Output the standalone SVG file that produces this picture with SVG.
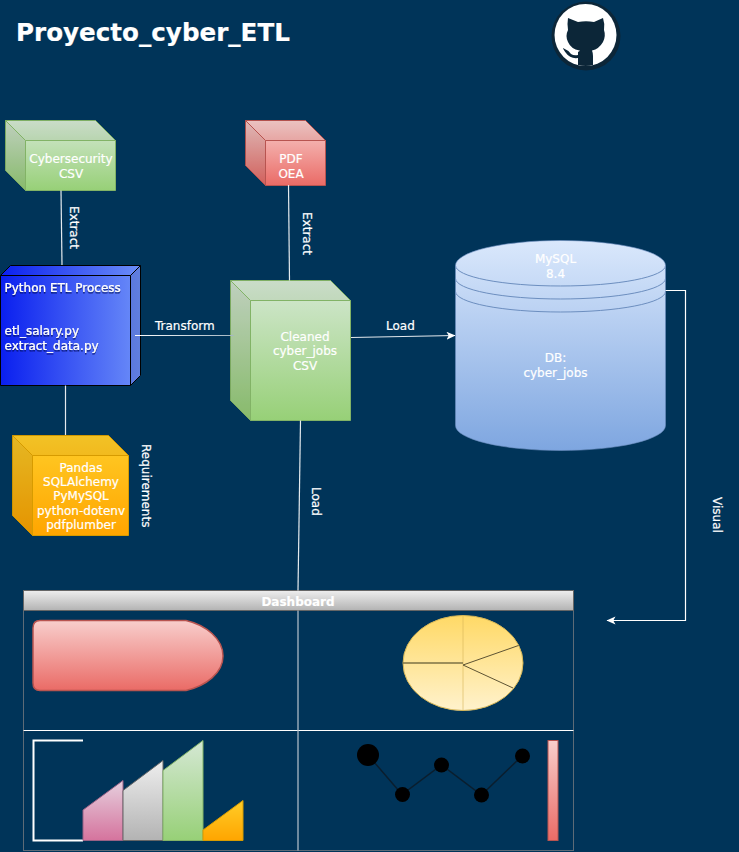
<svg xmlns="http://www.w3.org/2000/svg" width="739" height="852" viewBox="0 0 739 852">
<style>
text{font-family:"DejaVu Sans","Liberation Sans",sans-serif;font-size:12px;fill:#fff;stroke:#fff;stroke-width:.2}
.c{text-anchor:middle}
.ln{fill:none;stroke:#e4eaee;stroke-width:1.2}
.sg{stroke:#82b366}.sr{stroke:#b85450}.sy{stroke:#d79b00}
.sh{fill:#000;fill-opacity:.1;stroke:none}
.sh2{fill:#000;fill-opacity:.05;stroke:none}
.pu{fill:none;stroke:#fff;stroke-width:1.200}
</style>
<defs>
<linearGradient id="g" x1="0" y1="0" x2="0" y2="1"><stop offset="0" stop-color="#d5e8d4"/><stop offset="1" stop-color="#97d077"/></linearGradient>
<linearGradient id="r" x1="0" y1="0" x2="0" y2="1"><stop offset="0" stop-color="#f8cecc"/><stop offset="1" stop-color="#ea6b66"/></linearGradient>
<linearGradient id="y" x1="0" y1="0" x2="0" y2="1"><stop offset="0" stop-color="#ffcd28"/><stop offset="1" stop-color="#ffa500"/></linearGradient>
<linearGradient id="b" x1="0" y1="0" x2="1" y2="0"><stop offset="0" stop-color="#0a1fef"/><stop offset="1" stop-color="#6c8ef8"/></linearGradient>
<linearGradient id="cy" x1="0" y1="0" x2="0" y2="1"><stop offset="0" stop-color="#dae8fc"/><stop offset="1" stop-color="#7ea6e0"/></linearGradient>
<linearGradient id="h" x1="0" y1="0" x2="0" y2="1"><stop offset="0" stop-color="#eeeeee"/><stop offset="1" stop-color="#b3b3b3"/></linearGradient>
<linearGradient id="pk" x1="0" y1="0" x2="0" y2="1"><stop offset="0" stop-color="#e6d0de"/><stop offset="1" stop-color="#d5739d"/></linearGradient>
<linearGradient id="pie" x1="0" y1="0" x2="0" y2="1"><stop offset="0" stop-color="#ffd966"/><stop offset="1" stop-color="#fff2cc"/></linearGradient>
<linearGradient id="tf" gradientUnits="userSpaceOnUse" x1="135" y1="0" x2="233" y2="0"><stop offset="0" stop-color="#fff"/><stop offset="1" stop-color="#a5b7c4"/></linearGradient>
<marker id="a" markerWidth="10" markerHeight="10" refX="8.5" refY="4" orient="auto" markerUnits="userSpaceOnUse"><path d="M0 0L9 4L0 8L2.2 4Z" fill="#fff"/></marker>
<filter id="ds" x="-5%" y="-20%" width="110%" height="150%"><feDropShadow dx="0" dy="1.5" stdDeviation="0.4" flood-color="#00105a" flood-opacity="0.8"/></filter>
</defs>
<rect width="739" height="852" fill="#003459"/>
<text id="title" x="16" y="41" style="font-size:24.600px;font-weight:700">Proyecto_cyber_ETL</text>

<g id="github">
<circle cx="586" cy="36" r="34.500" fill="#0c2638"/>
<circle cx="585.500" cy="35" r="31" fill="#fff"/>
<path d="M568 18L578 22Q586 20.500 594 22L603 18Q605 24 604 30Q606 36 603 42Q599 49 592 50.500Q593 53 593 56L593 65Q586 67 578 65L578 58Q570 59 566 53Q563 49 563 48Q568 50 571 54Q574 56 578 55L578 52Q581 50 579.500 50.500Q571 49 568 42Q565 36 568 30Q567 24 568 18Z" fill="#0c2638"/>
</g>

<g id="n-cyber">
<path class="sg" fill="url(#g)" d="M5.500 120.500H95.500L115.500 140.500V190.500H25.500L5.500 170.500Z"/>
<path class="sh" d="M5.500 120.500L25.500 140.500V190.500L5.500 170.500Z"/>
<path class="sh2" d="M5.500 120.500H95.500L115.500 140.500H25.500Z"/>
<path class="sg" fill="none" d="M5.500 120.500L25.500 140.500H115.500M25.500 140.500V190.500"/>
<text class="c" x="71" y="163">Cybersecurity</text>
<text class="c" x="71" y="178">CSV</text>
</g>

<g id="n-pdf">
<path class="sr" fill="url(#r)" d="M245.500 120.500H305.500L325.500 140.500V185.500H265.500L245.500 165.500Z"/>
<path class="sh" d="M245.500 120.500L265.500 140.500V185.500L245.500 165.500Z"/>
<path class="sh2" d="M245.500 120.500H305.500L325.500 140.500H265.500Z"/>
<path class="sr" fill="none" d="M245.500 120.500L265.500 140.500H325.500M265.500 140.500V185.500"/>
<text class="c" x="291" y="163">PDF</text>
<text class="c" x="291" y="178">OEA</text>
</g>

<g id="n-python">
<path stroke="#000" fill="url(#b)" d="M0.500 275.500L10.500 265.500H140.500V375.500L130.500 385.500H0.500Z"/>
<path class="sh" d="M130.500 275.500L140.500 265.500V375.500L130.500 385.500Z"/>
<path stroke="#000" fill="none" d="M0.500 275.500H130.500L140.500 265.500M130.500 275.500V385.500"/>
<g filter="url(#ds)">
<text x="4.500" y="292">Python ETL Process</text>
<text x="4.500" y="335">etl_salary.py</text>
<text x="4.500" y="350">extract_data.py</text>
</g>
</g>

<g id="n-cleaned">
<path class="sg" fill="url(#g)" d="M230.500 280.500H330.500L350.500 300.500V420.500H250.500L230.500 400.500Z"/>
<path class="sh" d="M230.500 280.500L250.500 300.500V420.500L230.500 400.500Z"/>
<path class="sh2" d="M230.500 280.500H330.500L350.500 300.500H250.500Z"/>
<path class="sg" fill="none" d="M230.500 280.500L250.500 300.500H350.500M250.500 300.500V420.500"/>
<text class="c" x="305" y="341">Cleaned</text>
<text class="c" x="305" y="355">cyber_jobs</text>
<text class="c" x="305" y="370">CSV</text>
</g>

<g id="n-req">
<path class="sy" fill="url(#y)" d="M12.500 435.500H108.500L128.500 455.500V535.500H32.500L12.500 515.500Z"/>
<path class="sh" d="M12.500 435.500L32.500 455.500V535.500L12.500 515.500Z"/>
<path class="sh2" d="M12.500 435.500H108.500L128.500 455.500H32.500Z"/>
<path class="sy" fill="none" d="M12.500 435.500L32.500 455.500H128.500M32.500 455.500V535.500"/>
<text class="c" x="81" y="472">Pandas</text>
<text class="c" x="81" y="486">SQLAlchemy</text>
<text class="c" x="81" y="500">PyMySQL</text>
<text class="c" x="81" y="515">python-dotenv</text>
<text class="c" x="81" y="529">pdfplumber</text>
</g>

<g id="n-mysql">
<path fill="url(#cy)" stroke="#6c8ebf" stroke-opacity=".6" d="M455.500 265.500A105 25 0 0 1 665.500 265.500V425.500A105 25 0 0 1 455.500 425.500Z"/>
<path fill="none" stroke="#6c8ebf" d="M455.500 265.500A105 20.500 0 0 0 665.500 265.500M455.500 278.500A105 20.500 0 0 0 665.500 278.500M455.500 291.500A105 20.500 0 0 0 665.500 291.500"/>
<text class="c" x="555.500" y="263">MySQL</text>
<text class="c" x="555.500" y="278">8.4</text>
<text class="c" x="555.500" y="362">DB:</text>
<text class="c" x="555.500" y="377">cyber_jobs</text>
</g>

<g id="n-dashboard">
<rect x="23.500" y="590.500" width="550" height="260" fill="none" stroke="#5d6b77"/>
<rect x="23.500" y="590.500" width="550" height="20" fill="url(#h)" stroke="#666"/>
<text class="c" x="298" y="606" style="font-weight:700">Dashboard</text>
<path d="M23.500 730.500H573.500" stroke="#fff" fill="none"/>
<path fill="url(#r)" stroke="#b85450" stroke-width="1.500" d="M40 620.500H186C206 625 223 639 223 656C223 673 206 686 186 690.500H40Q33 690.500 33 683V628Q33 620.500 40 620.500Z"/>
<ellipse cx="463" cy="663" rx="60" ry="47.500" fill="url(#pie)" stroke="#d6b656"/>
<path d="M463 615.500V710.500" stroke="#d6b656" stroke-opacity=".6" fill="none"/>
<path d="M403 663H463" stroke="#7d7045" stroke-width="1.500" fill="none"/>
<path d="M518.500 645.500L463 665L513 688" stroke="#5d5333" fill="none"/>
<path d="M83 740.500H33.500V840.500H83" stroke="#fff" stroke-width="2" fill="none"/>
<path d="M83 810L123 780.500V840.500H83Z" fill="url(#pk)" stroke="#996185"/>
<path d="M123 790.500L163 760.500V840.500H123Z" fill="url(#h)" stroke="#666"/>
<path d="M163 770.500L203 740.500V840.500H163Z" fill="url(#g)" stroke="#82b366"/>
<path d="M203 830L243 800.500V840.500H203Z" fill="url(#y)" stroke="#d79b00"/>
<path d="M368 755L402 794.500L441.500 765L481.500 795L522 756" stroke="#0a1e2e" stroke-width="1.500" fill="none"/>
<circle cx="368" cy="755" r="11"/>
<circle cx="402.500" cy="794.500" r="7.500"/>
<circle cx="441.500" cy="765" r="7.500"/>
<circle cx="481.500" cy="795" r="7.500"/>
<circle cx="522.500" cy="756" r="7.500"/>
<rect x="548" y="740.500" width="10" height="100" fill="url(#r)" stroke="#b85450"/>
</g>

<g id="connectors">
<path class="ln" d="M61 190.500L62 265"/>
<path class="ln" d="M288.500 185L289.500 280.500"/>
<path fill="none" stroke="url(#tf)" stroke-width="1.200" d="M135 335.500H233V336"/>
<path class="ln" d="M351 337.500L455 335.500" marker-end="url(#a)"/>
<path class="ln" d="M65.500 385.500V435"/>
<path class="ln" d="M300.500 420.500L298 590.500"/>
<path fill="none" stroke="#b9c4cd" stroke-width="1.200" d="M298 610.500V850.500"/>
<path class="pu" d="M665.500 290.500H685.500V620.500H607" marker-end="url(#a)"/>
<text transform="translate(70,206) rotate(90)">Extract</text>
<text transform="translate(303,212) rotate(90)">Extract</text>
<text x="155" y="330">Transform</text>
<text x="386" y="330">Load</text>
<text transform="translate(312,487) rotate(90)">Load</text>
<text transform="translate(142,444) rotate(90)">Requirements</text>
<text transform="translate(713,497) rotate(90)">Visual</text>
</g>
</svg>
